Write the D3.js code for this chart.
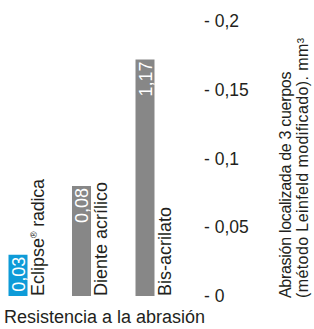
<!DOCTYPE html>
<html>
<head>
<meta charset="utf-8">
<script src="https://cdn.jsdelivr.net/npm/d3@7"></script>
<style>
  body { margin: 0; background: #fff; }
  svg text { font-family: "Liberation Sans", Arial, Helvetica, sans-serif; fill: #231f20; }
</style>
</head>
<body>
<div id="chart"></div>
<script>
// chart data
var categories = ["Eclipse", "Diente acrílico", "Bis-acrilato"];
var values = [0.03, 0.08, 0.172];
var valueLabels = ["0,03", "0,08", "1,17"];
var barColors = ["#0e9bd8", "#878787", "#878787"];
var tickValues = [0, 0.05, 0.1, 0.15, 0.2];

var width = 314, height = 329;

var svg = d3.select("#chart").append("svg")
    .attr("width", width)
    .attr("height", height);

var y = d3.scaleLinear().domain([0, 0.2]).range([296, 21]);
var x = d3.scaleBand().domain(categories)
    .range([8.5, 154.5])
    .paddingInner(0.7008)
    .paddingOuter(0);

var locale = d3.formatLocale({decimal: ",", thousands: ".", grouping: [3], currency: ["", "€"]});
var fmt = locale.format("~g");

// bars
svg.selectAll("rect.bar").data(values).enter().append("rect")
    .attr("class", "bar")
    .attr("x", function(d, i) { return x(categories[i]); })
    .attr("y", function(d) { return y(d); })
    .attr("width", x.bandwidth())
    .attr("height", function(d) { return y(0) - y(d); })
    .attr("fill", function(d, i) { return barColors[i]; });

// value labels inside the bars
svg.selectAll("text.val").data(values).enter().append("text")
    .attr("class", "val")
    .attr("transform", function(d, i) {
        return "translate(" + (x(categories[i]) + x.bandwidth() - 2.5) + "," + (y(d) + 2) + ") rotate(-90)";
    })
    .attr("text-anchor", "end")
    .style("fill", "#fff")
    .style("font-size", "18px")
    .text(function(d, i) { return valueLabels[i]; });

// category labels, rotated next to each bar
var cat = svg.selectAll("text.cat").data(categories).enter().append("text")
    .attr("class", "cat")
    .attr("transform", function(d) {
        return "translate(" + (x(d) + x.bandwidth() + 16.5) + "," + y(0) + ") rotate(-90)";
    })
    .style("font-size", "18px");
cat.append("tspan").text(function(d) { return d; });
cat.filter(function(d, i) { return i == 0; }).each(function() {
    var t = d3.select(this);
    t.append("tspan").attr("dy", -7).style("font-size", "9px").text("®");
    t.append("tspan").attr("dy", 7).style("letter-spacing", "-0.3px").text(" radica");
});

// y axis on the right
var axis = d3.axisRight(y)
    .tickValues(tickValues)
    .tickSize(0)
    .tickPadding(0)
    .tickFormat(function(d) { return "- " + fmt(d); });

var gAxis = svg.append("g")
    .attr("transform", "translate(204,0)")
    .call(axis);
gAxis.select(".domain").remove();
gAxis.selectAll("text")
    .style("font-size", "17.5px")
    .style("font-family", "\"Liberation Sans\", Arial, Helvetica, sans-serif")
    .attr("fill", "#231f20");

// axis title
var title = svg.append("text")
    .attr("transform", "translate(291,298) rotate(-90)")
    .style("font-size", "16px");
title.append("tspan").attr("x", 0).attr("y", 0)
    .style("letter-spacing", "-0.3px")
    .text("Abrasión localizada de 3 cuerpos");
title.append("tspan").attr("x", 0).attr("y", 17)
    .style("letter-spacing", "0.4px")
    .text("(método Leinfeld modificado). mm³");

// bottom caption
svg.append("text")
    .attr("x", 4)
    .attr("y", 323)
    .style("font-size", "18px")
    .text("Resistencia a la abrasión");
</script>
</body>
</html>
